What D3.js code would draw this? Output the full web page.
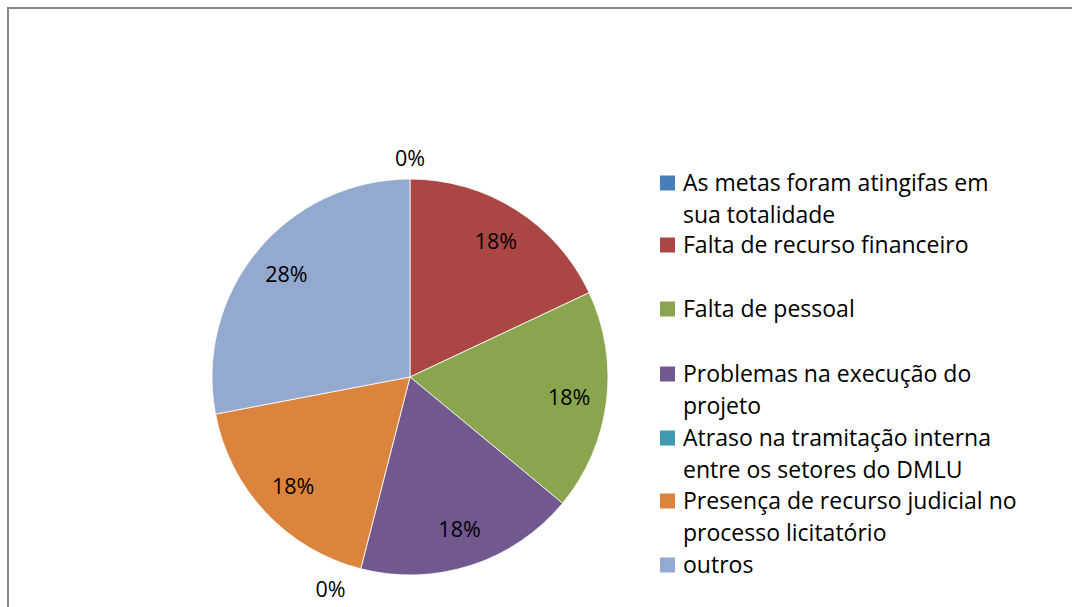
<!DOCTYPE html>
<html>
<head>
<meta charset="utf-8">
<script src="https://cdn.jsdelivr.net/npm/d3@7"></script>
<style>
  html, body { margin: 0; padding: 0; background: #fff; }
  svg { display: block; }
  text { font-family: "Open Sans", Lato, sans-serif; fill: #000; }
</style>
</head>
<body>
<svg id="chart" width="1072" height="607"></svg>
<script>
// Reasons why goals were not fully met (share of answers, %)
const categories = [
  "As metas foram atingifas em sua totalidade",
  "Falta de recurso financeiro",
  "Falta de pessoal",
  "Problemas na execução do projeto",
  "Atraso na tramitação interna entre os setores do DMLU",
  "Presença de recurso judicial no processo licitatório",
  "outros"
];
const values = [0, 18, 18, 18, 0, 18, 28];
// Legend text split into the lines shown beside each swatch
const legendLines = [
  ["As metas foram atingifas em", "sua totalidade"],
  ["Falta de recurso financeiro"],
  ["Falta de pessoal"],
  ["Problemas na execução do", "projeto"],
  ["Atraso na tramitação interna", "entre os setores do DMLU"],
  ["Presença de recurso judicial no", "processo licitatório"],
  ["outros"]
];
const colors = ["#4a7ebb", "#aa4644", "#89a54e", "#71588f", "#4198af", "#db843d", "#93a9cf"];

const svg = d3.select("#chart");

// Outer frame
svg.append("rect")
  .attr("x", 8).attr("y", 8)
  .attr("width", 1100).attr("height", 700)
  .attr("fill", "none")
  .attr("stroke", "#868686")
  .attr("stroke-width", 2);

const cx = 410, cy = 377, R = 198;
const color = d3.scaleOrdinal().domain(categories).range(colors);

const pie = d3.pie().sort(null).value(d => d.value);
const arcs = pie(categories.map((c, i) => ({ name: c, value: values[i] })));
const arc = d3.arc().innerRadius(0).outerRadius(R);
const inLabel = d3.arc().innerRadius(R * 0.81).outerRadius(R * 0.81);
const outLabel = d3.arc().innerRadius(R + 21).outerRadius(R + 21);

const g = svg.append("g").attr("transform", `translate(${cx},${cy})`);

g.selectAll("path.slice")
  .data(arcs)
  .join("path")
  .attr("class", "slice")
  .attr("d", arc)
  .attr("fill", d => color(d.data.name))
  .attr("stroke", d => d.data.value > 0 ? "#fff" : "none")
  .attr("stroke-width", 0.8);

// Zero-valued slices get their label just outside the rim
g.selectAll("text.pct")
  .data(arcs)
  .join("text")
  .attr("class", "pct")
  .attr("transform", d => {
    const [x, y] = (d.data.value > 0 ? inLabel : outLabel).centroid(d);
    const shift = (d.data.value > 0 || Math.abs(x) < 1) ? 0 : Math.sign(x) * 25;
    return `translate(${x + shift},${y})`;
  })
  .attr("text-anchor", "middle")
  .attr("dy", "0.35em")
  .style("font-size", "21.5px")
  .text(d => d3.format(".0%")(d.data.value / 100));

// Legend
const legendX = 660, lineH = 31.8;
const rowStarts = [183, 245, 309, 374, 438, 501, 565];
const legend = svg.append("g");
categories.forEach((c, i) => {
  const y0 = rowStarts[i];
  legend.append("rect")
    .attr("x", legendX).attr("y", y0 - 7.5)
    .attr("width", 15).attr("height", 15)
    .attr("fill", color(c));
  const t = legend.append("text")
    .style("font-size", "23px");
  legendLines[i].forEach((ln, k) => {
    t.append("tspan")
      .attr("x", legendX + 23)
      .attr("y", y0 + k * lineH)
      .attr("dy", "0.35em")
      .text(ln);
  });
});
</script>
</body>
</html>
